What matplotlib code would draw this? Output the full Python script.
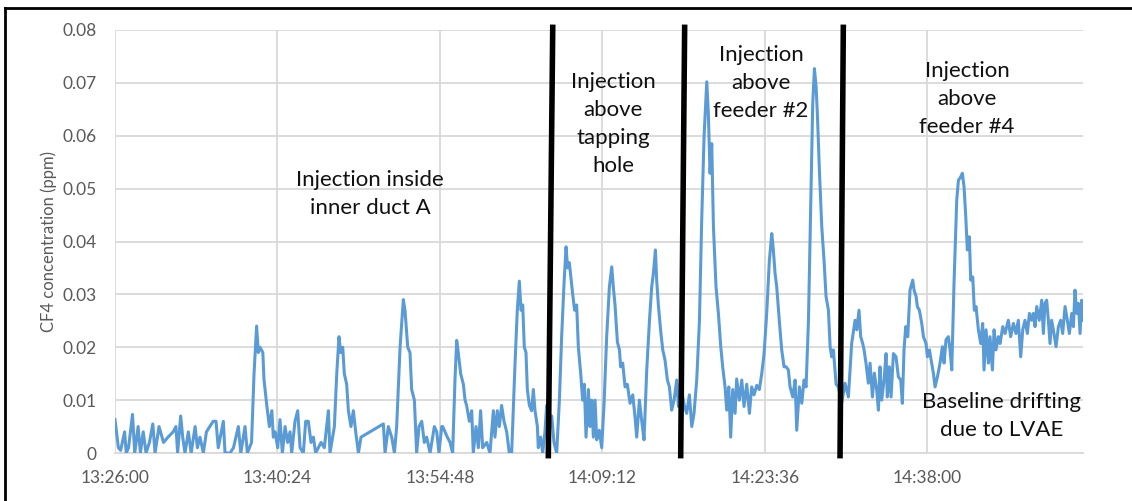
"""
CF4 tracer concentration during the injection tests.
"""
import matplotlib
matplotlib.use("Agg")
import matplotlib.pyplot as plt
from matplotlib.lines import Line2D
from matplotlib.ticker import FuncFormatter, MultipleLocator

# (minutes after 13:26:00, CF4 in ppm)
readings = [
    # injection inside inner duct A
    (0.0, 0.0063), (0.3, 0.001), (0.5, 0.0005), (0.85, 0.004), (1.0, 0.0), (1.2, 0.001),
    (1.55, 0.0073), (1.75, 0.0), (2.05, 0.005), (2.25, 0.0), (2.5, 0.004), (2.75, 0.0),
    (3.05, 0.002), (3.35, 0.0055), (3.55, 0.0), (3.9, 0.005), (4.3, 0.002), (4.7, 0.003),
    (5.15, 0.004), (5.4, 0.005), (5.55, 0.0), (5.82, 0.007), (6.0, 0.003), (6.2, 0.0),
    (6.5, 0.004), (6.75, 0.0), (7.1, 0.005), (7.3, 0.001), (7.53, 0.003), (7.83, 0.0),
    (8.1, 0.004), (8.4, 0.005), (8.7, 0.006), (8.95, 0.006), (9.15, 0.001), (9.6, 0.006),
    (9.75, 0.0), (10.2, 0.0), (10.5, 0.001), (10.93, 0.005), (11.15, 0.0), (11.52, 0.005),
    (11.73, 0.0), (12.1, 0.002), (12.32, 0.015), (12.55, 0.024), (12.7, 0.019), (12.85, 0.020),
    (13.1, 0.019), (13.2, 0.014), (13.45, 0.009), (13.68, 0.005), (13.9, 0.008), (14.03, 0.003),
    (14.18, 0.004), (14.42, 0.001), (14.62, 0.0063), (14.83, 0.0), (15.07, 0.005), (15.3, 0.002),
    (15.51, 0.004), (15.66, 0.0), (15.95, 0.006), (16.19, 0.008), (16.4, 0.001), (16.69, 0.0),
    (16.9, 0.006), (17.13, 0.006), (17.37, 0.002), (17.58, 0.003), (17.78, 0.0), (18.26, 0.002),
    (18.55, 0.001), (18.91, 0.008), (19.05, 0.0), (19.44, 0.005), (19.65, 0.015), (19.85, 0.022),
    (20.0, 0.019), (20.18, 0.020), (20.32, 0.015), (20.53, 0.013), (20.68, 0.008), (20.91, 0.005),
    (21.12, 0.008), (21.33, 0.004), (21.57, 0.0), (21.8, 0.003), (23.78, 0.0055), (23.93, 0.0),
    (24.22, 0.005), (24.52, 0.003), (24.76, 0.0), (24.96, 0.005), (25.26, 0.02), (25.55, 0.029),
    (25.7, 0.027), (25.94, 0.02), (26.14, 0.019), (26.29, 0.012), (26.53, 0.01), (26.73, 0.0),
    (26.94, 0.005), (27.18, 0.006), (27.41, 0.002), (27.62, 0.003), (27.92, 0.0), (28.3, 0.005),
    (28.51, 0.004), (28.71, 0.0), (28.95, 0.005), (29.04, 0.005), (29.24, 0.004), (29.45, 0.003),
    (29.69, 0.002), (29.92, 0.0), (30.13, 0.014), (30.28, 0.0213), (30.42, 0.019), (30.63, 0.015),
    (30.87, 0.013), (31.02, 0.01), (31.16, 0.009), (31.4, 0.006), (31.61, 0.008), (31.75, 0.0),
    (31.99, 0.005), (32.2, 0.001), (32.4, 0.008), (32.58, 0.001), (32.94, 0.002), (33.23, 0.0),
    (33.53, 0.008), (33.67, 0.003), (33.88, 0.008), (34.06, 0.005), (34.26, 0.009), (34.47, 0.006),
    (34.71, 0.004), (34.94, 0.0), (35.15, 0.0), (35.45, 0.017), (35.65, 0.027), (35.83, 0.0325),
    (35.98, 0.027), (36.13, 0.028), (36.27, 0.02), (36.42, 0.019), (36.54, 0.012), (36.72, 0.009),
    (36.92, 0.008), (37.07, 0.012), (37.22, 0.008), (37.43, 0.005), (37.51, 0.001), (37.72, 0.003),
    (37.9, 0.0), (38.1, 0.004), (38.25, 0.009), (38.45, 0.004),
    # injection above tapping hole
    (38.7, 0.007), (38.9, 0.002), (39.14, 0.0), (39.38, 0.01), (39.58, 0.022), (39.79, 0.032),
    (39.97, 0.039), (40.11, 0.035), (40.26, 0.036), (40.41, 0.033), (40.56, 0.03), (40.73, 0.027),
    (40.91, 0.028), (41.06, 0.02), (41.27, 0.015), (41.44, 0.01), (41.59, 0.013), (41.74, 0.003),
    (41.95, 0.012), (42.09, 0.005), (42.24, 0.01), (42.39, 0.003), (42.54, 0.01), (42.69, 0.0025),
    (42.92, 0.0043), (43.13, 0.001), (43.34, 0.0094), (43.57, 0.022), (43.81, 0.0314), (44.02, 0.0352),
    (44.16, 0.0314), (44.31, 0.028), (44.52, 0.021), (44.7, 0.0195), (44.81, 0.0163), (44.99, 0.017),
    (45.2, 0.0125), (45.4, 0.013), (45.64, 0.0094), (45.88, 0.011), (46.08, 0.0069), (46.23, 0.003),
    (46.47, 0.01), (46.68, 0.006), (46.88, 0.0025), (47.12, 0.0157), (47.36, 0.025), (47.56, 0.0314),
    (47.71, 0.034), (47.89, 0.0384), (48.0, 0.0327), (48.15, 0.028), (48.36, 0.023), (48.54, 0.0195),
    (48.74, 0.0176), (48.95, 0.0138), (49.13, 0.0125), (49.33, 0.0081), (49.54, 0.01), (49.78, 0.0138),
    (49.93, 0.0088), (50.2, 0.012),
    # injection above feeder #2
    (50.45, 0.009), (50.66, 0.0075), (50.9, 0.011), (51.11, 0.005), (51.31, 0.0075), (51.55, 0.0138),
    (51.79, 0.025), (51.99, 0.044), (52.2, 0.0598), (52.44, 0.0702), (52.58, 0.0642), (52.73, 0.0529),
    (52.88, 0.0585), (53.03, 0.0428), (53.26, 0.0314), (53.47, 0.0264), (53.68, 0.0201), (53.85, 0.0163),
    (54.06, 0.0125), (54.21, 0.0081), (54.39, 0.0125), (54.56, 0.003), (54.74, 0.012), (54.95, 0.0075),
    (55.09, 0.014), (55.33, 0.01), (55.54, 0.0138), (55.74, 0.0088), (55.98, 0.013), (56.22, 0.0075),
    (56.42, 0.0125), (56.63, 0.011), (56.87, 0.0128), (57.1, 0.012), (57.31, 0.015), (57.52, 0.0188),
    (57.75, 0.0264), (57.99, 0.0365), (58.2, 0.0415), (58.34, 0.0384), (58.49, 0.034), (58.64, 0.0314),
    (58.87, 0.025), (59.08, 0.0195), (59.29, 0.0163), (59.47, 0.0163), (59.67, 0.0157), (59.82, 0.0125),
    (60.06, 0.0106), (60.27, 0.0138), (60.41, 0.0043), (60.65, 0.0125), (60.86, 0.0094), (61.06, 0.0138),
    (61.24, 0.0125), (61.45, 0.025), (61.65, 0.0472), (61.83, 0.0661), (61.98, 0.0727), (62.13, 0.0692),
    (62.24, 0.0642), (62.42, 0.0535), (62.63, 0.0428), (62.83, 0.0365), (63.01, 0.0296), (63.22, 0.027),
    (63.37, 0.0201), (63.51, 0.0182), (63.66, 0.0195), (63.9, 0.013), (64.1, 0.0125), (64.4, 0.0095),
    # injection above feeder #4
    (64.69, 0.0132), (64.99, 0.0106), (65.28, 0.0207), (65.58, 0.0251), (65.73, 0.0233), (65.93, 0.027),
    (66.08, 0.022), (66.26, 0.0207), (66.38, 0.0195), (66.55, 0.017), (66.76, 0.0132), (66.91, 0.017),
    (67.12, 0.0106), (67.29, 0.0151), (67.5, 0.0119), (67.65, 0.0081), (67.79, 0.0163), (67.94, 0.01),
    (68.15, 0.0138), (68.33, 0.0188), (68.44, 0.0106), (68.62, 0.0163), (68.77, 0.0106), (68.98, 0.0188),
    (69.21, 0.0182), (69.42, 0.0144), (69.63, 0.0138), (69.77, 0.0094), (69.92, 0.0195), (70.07, 0.0239),
    (70.25, 0.022), (70.45, 0.0308), (70.69, 0.0327), (70.81, 0.0308), (70.99, 0.0296), (71.1, 0.0277),
    (71.28, 0.027), (71.49, 0.0245), (71.64, 0.022), (71.87, 0.0207), (71.99, 0.0182), (72.17, 0.0195),
    (72.37, 0.017), (72.52, 0.0151), (72.67, 0.0125), (72.88, 0.0144), (73.11, 0.017), (73.32, 0.0201),
    (73.47, 0.017), (73.64, 0.0214), (73.85, 0.022), (74.0, 0.0195), (74.15, 0.0157), (74.35, 0.0321),
    (74.59, 0.0478), (74.74, 0.0516), (74.94, 0.0522), (75.09, 0.0529), (75.24, 0.0503), (75.39, 0.0447),
    (75.53, 0.0384), (75.71, 0.0409), (75.83, 0.0327), (76.01, 0.0333), (76.15, 0.027), (76.3, 0.0277),
    (76.51, 0.0233), (76.72, 0.0207), (76.89, 0.0245), (77.01, 0.0157), (77.19, 0.0233), (77.4, 0.017),
    (77.54, 0.022), (77.75, 0.0157), (77.9, 0.0233), (78.07, 0.0195), (78.28, 0.022), (78.43, 0.0207),
    (78.67, 0.0239), (78.87, 0.0226), (79.16, 0.0251), (79.37, 0.022), (79.61, 0.0245), (79.84, 0.0226),
    (80.05, 0.0251), (80.26, 0.0182), (80.44, 0.0233), (80.64, 0.0251), (80.85, 0.0226), (81.03, 0.0264),
    (81.23, 0.0251), (81.38, 0.0264), (81.53, 0.0239), (81.68, 0.0277), (81.91, 0.0251), (82.12, 0.0289),
    (82.27, 0.0226), (82.41, 0.0283), (82.56, 0.0289), (82.71, 0.0251), (82.86, 0.0207), (83.0, 0.0251),
    (83.21, 0.0226), (83.39, 0.0201), (83.6, 0.0239), (83.8, 0.0251), (83.98, 0.0226), (84.19, 0.0277),
    (84.39, 0.0251), (84.57, 0.0226), (84.78, 0.0264), (84.93, 0.0239), (85.07, 0.0308), (85.22, 0.0264),
    (85.37, 0.0283), (85.52, 0.0226), (85.66, 0.0289), (85.75, 0.0251),
]

start_min = 13 * 60 + 26          # axis origin, 13:26:00
x_tick_step = 14.4                # Excel major unit 0.01 day
y_ticks = [0, 0.01, 0.02, 0.03, 0.04, 0.05, 0.06, 0.07, 0.08]
y_tick_labels = ["0", "0.01", "0.02", "0.03", "0.04", "0.05", "0.06", "0.07", "0.08"]

# hand-drawn dividers between test phases: (minute at top, minute at bottom)
dividers = [(38.79, 38.40), (50.48, 50.13), (64.54, 64.25)]

notes = [
    ("Injection inside\ninner duct A", 22.6, 0.049),
    ("Injection\nabove\ntapping\nhole", 44.13, 0.0623),
    ("Injection\nabove\nfeeder #2", 57.25, 0.070),
    ("Injection\nabove\nfeeder #4", 75.5, 0.067),
    ("Baseline drifting\ndue to LVAE", 78.6, 0.0070),
]


def clock_label(v, pos):
    secs = int(round((start_min + v) * 60))
    return "%02d:%02d:%02d" % (secs // 3600, secs // 60 % 60, secs % 60)


plt.rcParams['font.family'] = ['Lato', 'DejaVu Sans']

t_min = [r[0] for r in readings]
cf4_ppm = [r[1] for r in readings]

fig = plt.figure(figsize=(11.32, 5.01), dpi=100)
ax = fig.add_axes([115 / 1132, 48 / 501, 968 / 1132, 423 / 501])

ax.plot(t_min, cf4_ppm, color='#5B9BD5', linewidth=2.2, solid_joinstyle='round', zorder=3)

ax.set_xlim(0, 85.78)
ax.set_ylim(0, 0.08)
ax.xaxis.set_major_locator(MultipleLocator(x_tick_step))
ax.xaxis.set_major_formatter(FuncFormatter(clock_label))
ax.set_yticks(y_ticks)
ax.set_yticklabels(y_tick_labels)
ax.tick_params(length=0, labelsize=12.5, colors='#595959')
ax.tick_params(axis='y', pad=13)
ax.tick_params(axis='x', pad=12)
ax.grid(True, color='#d9d9d9', linewidth=1.3)
ax.set_axisbelow(True)
for side in ['top', 'right', 'left']:
    ax.spines[side].set_visible(False)
ax.spines['bottom'].set_color('#d9d9d9')
ax.spines['bottom'].set_linewidth(1.3)
ax.set_ylabel("CF4 concentration (ppm)", color='#595959', fontsize=12, labelpad=4)

for top_x, bot_x in dividers:
    ax.plot([top_x, bot_x], [0.0805, -0.0005], color='black', linewidth=4, clip_on=False, zorder=4)

for text, x, y in notes:
    ax.text(x, y, text, ha='center', va='center', fontsize=16, color='#111111',
            linespacing=1.5, zorder=5)

# page frame around the figure
fig.add_artist(Line2D([5 / 1132, 1.0], [493 / 501, 493 / 501], color='black', linewidth=2))
fig.add_artist(Line2D([5 / 1132, 5 / 1132], [0.0, 493 / 501], color='black', linewidth=2))

fig.savefig("out.png", dpi=100)
